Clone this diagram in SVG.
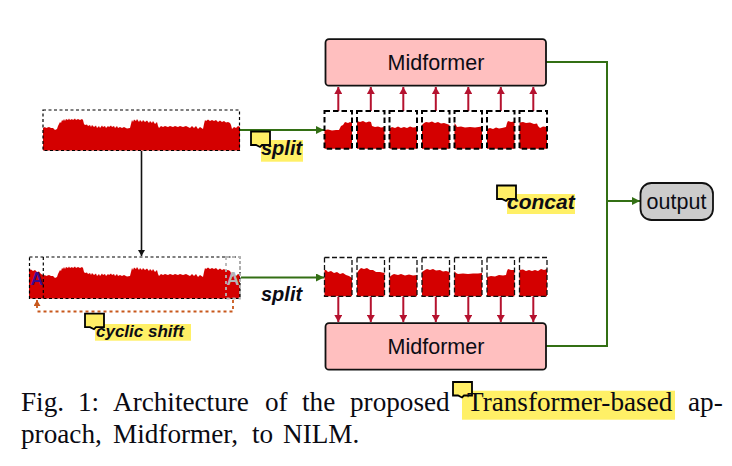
<svg xmlns="http://www.w3.org/2000/svg" width="732" height="466" viewBox="0 0 732 466">
<style>
.wave{fill:#d40000}
.frame{fill:none;stroke:#000;stroke-width:1.200;stroke-dasharray:3 2.500}
.patchT{fill:none;stroke:#000;stroke-width:2;stroke-dasharray:5.500 3}
.patchB{fill:none;stroke:#111;stroke-width:1.300;stroke-dasharray:5 2.500}
.mid{fill:#ffbfbf;stroke:#111;stroke-width:1.800}
.out{fill:#cccccc;stroke:#111;stroke-width:1.800}
.lab{font-family:"Liberation Sans",Arial,sans-serif;fill:#0c0c14}
.big{font-size:21.500px;text-anchor:middle}
.it{font-weight:bold;font-style:italic}
.cap{font-family:"Liberation Serif","Times New Roman",serif;font-size:27.200px;fill:#0a0a12}
.hl{fill:#fff066}
.note{fill:#ffee66;stroke:#000;stroke-width:1.800}
.g{fill:none;stroke:#336f14;stroke-width:2}
.c{fill:none;stroke:#b5122f;stroke-width:2}
.k{fill:none;stroke:#111;stroke-width:1.600}
.o{fill:none;stroke:#c8581c;stroke-width:1.800;stroke-dasharray:3 3}
</style>
<defs>
<marker id="ag" markerUnits="userSpaceOnUse" markerWidth="9" markerHeight="8" refX="8" refY="4" orient="auto"><path d="M0 0L8 4L0 8Z" fill="#336f14"/></marker>
<marker id="ac" markerUnits="userSpaceOnUse" markerWidth="8" markerHeight="8" refX="7" refY="4" orient="auto"><path d="M0 0L7 4L0 8Z" fill="#b5122f"/></marker>
<marker id="ak" markerUnits="userSpaceOnUse" markerWidth="7" markerHeight="8" refX="6" refY="3.500" orient="auto"><path d="M0 0L6 3.500L0 7Z" fill="#111"/></marker>
<marker id="ao" markerUnits="userSpaceOnUse" markerWidth="7" markerHeight="8" refX="6" refY="3.500" orient="auto"><path d="M0 0L6 3.500L0 7Z" fill="#c8581c"/></marker>
<path id="n" class="note" d="M0 0H19V13.500H11L9 15.500L5 13.500H0Z"/>
<path id="w" class="wave" d="M43 128L45 127L46 128L49 127L51 128L53 128L55 130L57 129L58 126L60 122L61 123L62 120L63 121L64 119L65 121L66 119L68 120L69 118.500L70 120L72 119L73 120L75 118.500L76 120L78 119L80 120L82 119L83 120L84 124L85 125L87 124.500L88 126L90 125L91 127L92 125L94 127L96 125.500L97 128L99 126L100 128L102 125.500L103 127L105 126L106 128L108 126L109 127L111 125.500L112 127L114 126L115 128L117 126L118 128L120 127L122 128L124 127L127 128.500L130 128L131 124L132 120L133 122L134 119.500L136 121L137 119L139 122L140 120L142 122L143 120L145 122L147 120.500L149 123L150 121L152 123L153 121L155 124L157 122L158 126L159 128L161 126L163 127L165 126L168 127L170 126L173 127L175 126L178 127L180 126L183 127L186 126L188 127L190 128L192 126L194 128L196 126L198 129L200 127L203 129L204 124L205 120L206 121L208 119.500L210 121L212 120L214 121L216 120L218 122L220 120.500L222 122L224 121L226 122.500L228 122L230 123L231 125L232 129L234 127L236 128L238 126L240 127V150.500H43Z"/>
</defs>

<g id="connectors">
<path class="g" marker-end="url(#ag)" d="M240 130H324"/>
<path class="g" marker-end="url(#ag)" d="M241 277.500H324"/>
<path class="g" d="M546 62H607V346H546"/>
<path class="g" marker-end="url(#ag)" d="M607 201H640"/>
<path class="k" marker-end="url(#ak)" d="M141.500 151V256"/>
<path class="o" d="M233 300V311.500H36"/>
<path fill="none" stroke="#c8581c" stroke-width="1.800" marker-end="url(#ao)" d="M37 308V300"/>
<path class="c" marker-end="url(#ac)" d="M338.300 111V87"/>
<path class="c" marker-end="url(#ac)" d="M370.800 111V87"/>
<path class="c" marker-end="url(#ac)" d="M403.300 111V87"/>
<path class="c" marker-end="url(#ac)" d="M435.800 111V87"/>
<path class="c" marker-end="url(#ac)" d="M468.300 111V87"/>
<path class="c" marker-end="url(#ac)" d="M500.800 111V87"/>
<path class="c" marker-end="url(#ac)" d="M533.300 111V87"/>
<path class="c" marker-end="url(#ac)" d="M338.300 297V322"/>
<path class="c" marker-end="url(#ac)" d="M370.800 297V322"/>
<path class="c" marker-end="url(#ac)" d="M403.300 297V322"/>
<path class="c" marker-end="url(#ac)" d="M435.800 297V322"/>
<path class="c" marker-end="url(#ac)" d="M468.300 297V322"/>
<path class="c" marker-end="url(#ac)" d="M500.800 297V322"/>
<path class="c" marker-end="url(#ac)" d="M533.300 297V322"/>
</g>

<g id="signal-top">
<use href="#w"/>
<rect class="frame" x="43" y="110" width="196.500" height="40.500"/>
</g>

<g id="signal-shifted">
<use href="#w" transform="translate(0 148)"/>
<path class="wave" d="M29 270L31 269.500L33 271L35 270L37 272L39 271.500L41 274L43 275V298.500H29Z"/>
<rect class="frame" x="29.500" y="257" width="210.500" height="41.500"/>
<path class="frame" d="M43.300 257V298"/>
<rect x="226" y="257" width="14" height="41.500" fill="none" stroke="#b5b5b5" stroke-width="1.800" stroke-dasharray="3 3"/>
<text x="37" y="285" class="lab" font-weight="bold" font-size="18" text-anchor="middle" style="fill:#3a0a8c">A</text>
<text x="233" y="285" class="lab" font-weight="bold" font-size="18" text-anchor="middle" style="fill:#b5b5b5">A</text>
</g>

<g id="patches-top">
<path class="wave" d="M324.500 130L328 129.500L332 130.500L336 130L339 130L341 126L343 125L345 122L348 123L350 122L352 123V148.700H324.500Z"/>
<path class="wave" d="M357 121L360 122L363 121L366 122.500L369 121.500L371 122L372 126L375 127L378 126.500L381 127.500L384.500 127V148.700H357Z"/>
<path class="wave" d="M389.500 128.500L392 127L395 128L398 126.500L401 128L404 127L407 128L410 126.500L413 127.500L417 127V148.700H389.500Z"/>
<path class="wave" d="M422 125L424 123L426 122L429 122.500L432 121.500L435 123L438 122L441 123.500L444 123L447 124L449.500 125V148.700H422Z"/>
<path class="wave" d="M454.500 123L456 125L457 127L461 126.500L465 127.500L470 127L475 127.500L482 126.500V148.700H454.500Z"/>
<path class="wave" d="M487 129L490 128L493 129L496 127.500L499 128.500L502 128L506 127L507 123L508 121L511 122L514.500 121.500V148.700H487Z"/>
<path class="wave" d="M519.500 122.500L523 122L526 123L530 122.500L534 124L537 123.500L538 126L540 128L543 126.500L547 127V148.700H519.500Z"/>
<rect class="patchT" x="324.500" y="111" width="27.500" height="37.700"/>
<rect class="patchT" x="357" y="111" width="27.500" height="37.700"/>
<rect class="patchT" x="389.500" y="111" width="27.500" height="37.700"/>
<rect class="patchT" x="422" y="111" width="27.500" height="37.700"/>
<rect class="patchT" x="454.500" y="111" width="27.500" height="37.700"/>
<rect class="patchT" x="487" y="111" width="27.500" height="37.700"/>
<rect class="patchT" x="519.500" y="111" width="27.500" height="37.700"/>
</g>

<g id="patches-bottom">
<path class="wave" d="M324.500 270L326 270L328 272L331 271L334 273L337 272L340 274L343 273L346 275L349 276L352 278V296.300H324.500Z"/>
<path class="wave" d="M357 273L359 270L361 268L364 269L367 268L370 270L373 270L376 272L380 272L384.500 273V296.300H357Z"/>
<path class="wave" d="M389.500 277L392 275L394 274L398 275L401 274L405 275.500L409 274.500L413 275.500L417 275V296.300H389.500Z"/>
<path class="wave" d="M422 272L425 270L427 269L430 270L433 269L436 270.500L440 270L443 271.500L446 271L449.500 272V296.300H422Z"/>
<path class="wave" d="M454.500 271L456 273L458 274L463 273.500L468 274L473 273.500L478 273.500L482 273V296.300H454.500Z"/>
<path class="wave" d="M487 277L491 276L495 276.500L499 275L503 275.500L506 275L507 271L508 269L511 270L514.500 270V296.300H487Z"/>
<path class="wave" d="M519.500 270L523 269.500L526 271L529 270L532 271L535 270L538 271L541 269L544 270L547 269V296.300H519.500Z"/>
<rect class="patchB" x="324.500" y="257.500" width="27.500" height="38.800"/>
<rect class="patchB" x="357" y="257.500" width="27.500" height="38.800"/>
<rect class="patchB" x="389.500" y="257.500" width="27.500" height="38.800"/>
<rect class="patchB" x="422" y="257.500" width="27.500" height="38.800"/>
<rect class="patchB" x="454.500" y="257.500" width="27.500" height="38.800"/>
<rect class="patchB" x="487" y="257.500" width="27.500" height="38.800"/>
<rect class="patchB" x="519.500" y="257.500" width="27.500" height="38.800"/>
</g>

<g id="midformer-top">
<rect class="mid" x="325.500" y="39.200" width="220.500" height="46.500" rx="3.500"/>
<text x="436" y="70" class="lab big">Midformer</text>
</g>
<g id="midformer-bottom">
<rect class="mid" x="325.500" y="323.200" width="220.500" height="46.500" rx="3.500"/>
<text x="436" y="354" class="lab big">Midformer</text>
</g>
<g id="output">
<rect class="out" x="640.500" y="183" width="72.500" height="37" rx="11"/>
<text x="676.500" y="208.500" class="lab big">output</text>
</g>

<g id="label-split-top">
<rect class="hl" x="261" y="140" width="42" height="21.700"/>
<use href="#n" x="251" y="131.500"/>
<text x="261" y="154.500" class="lab it" font-size="20">split</text>
</g>
<g id="label-split-bottom">
<text x="261" y="301" class="lab it" font-size="20">split</text>
</g>
<g id="label-concat">
<rect class="hl" x="507" y="194" width="68" height="20"/>
<use href="#n" x="497" y="185.500"/>
<text x="507" y="208.500" class="lab it" font-size="21">concat</text>
</g>
<g id="label-cyclic">
<rect class="hl" x="95" y="324" width="96" height="16.700"/>
<use href="#n" x="85" y="313.700"/>
<text x="96" y="336.700" class="lab it" font-size="17">cyclic shift</text>
</g>

<g id="caption">
<rect class="hl" x="462" y="390.700" width="213" height="29"/>
<use href="#n" x="453" y="382"/>
<text class="cap" y="411"><tspan x="21">Fig.</tspan><tspan x="78">1:</tspan><tspan x="113">Architecture</tspan><tspan x="265">of</tspan><tspan x="302">the</tspan><tspan x="350">proposed</tspan><tspan x="467">Transformer-based</tspan><tspan x="688">ap-</tspan></text>
<text class="cap" y="443.300"><tspan x="21">proach,</tspan><tspan x="113">Midformer,</tspan><tspan x="252">to</tspan><tspan x="283">NILM.</tspan></text>
</g>
</svg>
